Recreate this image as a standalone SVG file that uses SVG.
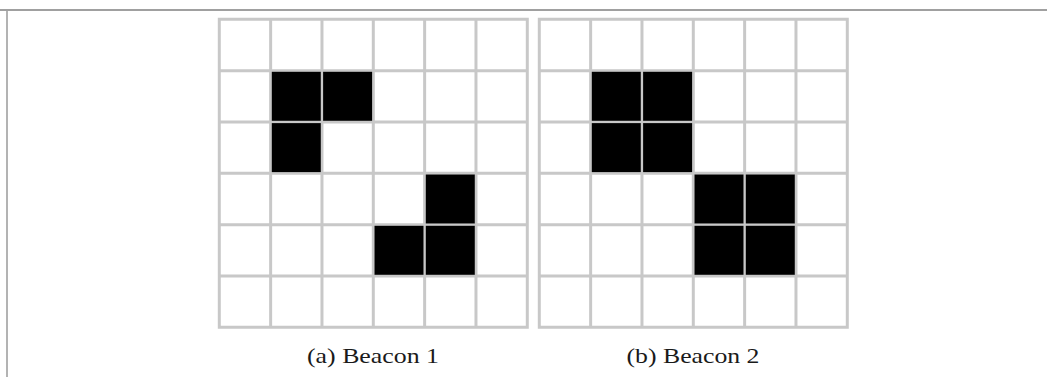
<svg xmlns="http://www.w3.org/2000/svg" width="1047" height="377" viewBox="0 0 1047 377">
<style>
.frame{stroke:#a0a0a0;fill:none}
.grid{stroke:#c8c8c8;stroke-width:3;fill:none}
.on{fill:#000}
.cap{font-family:"Liberation Serif","Times New Roman",serif;font-size:21px;fill:#1a1a1a;text-anchor:middle}
</style>
<rect width="1047" height="377" fill="#fff"/>
<g id="frame">
<line class="frame" x1="0" y1="10" x2="1047" y2="10" stroke-width="2"/>
<line class="frame" x1="7" y1="10" x2="7" y2="377" stroke-width="1.6"/>
</g>
<defs>
<g id="gridlines">
<path class="grid" d="M0,0H308V308H0Z M51.33,0V308 M102.67,0V308 M154,0V308 M205.33,0V308 M256.67,0V308 M0,51.33H308 M0,102.67H308 M0,154H308 M0,205.33H308 M0,256.67H308"/>
</g>
</defs>
<g id="beacon1" transform="translate(219.3,19.3)">
<use href="#gridlines"/>
<g class="on">
<rect x="52.5" y="52.5" width="49" height="49"/>
<rect x="103.8" y="52.5" width="49" height="49"/>
<rect x="52.5" y="103.8" width="49" height="49"/>
<rect x="206.5" y="155.2" width="49" height="49"/>
<rect x="155.2" y="206.5" width="49" height="49"/>
<rect x="206.5" y="206.5" width="49" height="49"/>
</g>
</g>
<g id="beacon2" transform="translate(539.3,19.3)">
<use href="#gridlines"/>
<g class="on">
<rect x="52.5" y="52.5" width="49" height="49"/>
<rect x="103.8" y="52.5" width="49" height="49"/>
<rect x="52.5" y="103.8" width="49" height="49"/>
<rect x="103.8" y="103.8" width="49" height="49"/>
<rect x="155.2" y="155.2" width="49" height="49"/>
<rect x="206.5" y="155.2" width="49" height="49"/>
<rect x="155.2" y="206.5" width="49" height="49"/>
<rect x="206.5" y="206.5" width="49" height="49"/>
</g>
</g>
<g id="captions">
<text class="cap" x="373" y="363" textLength="132" lengthAdjust="spacingAndGlyphs">(a) Beacon 1</text>
<text class="cap" x="693" y="363" textLength="133" lengthAdjust="spacingAndGlyphs">(b) Beacon 2</text>
</g>
</svg>
